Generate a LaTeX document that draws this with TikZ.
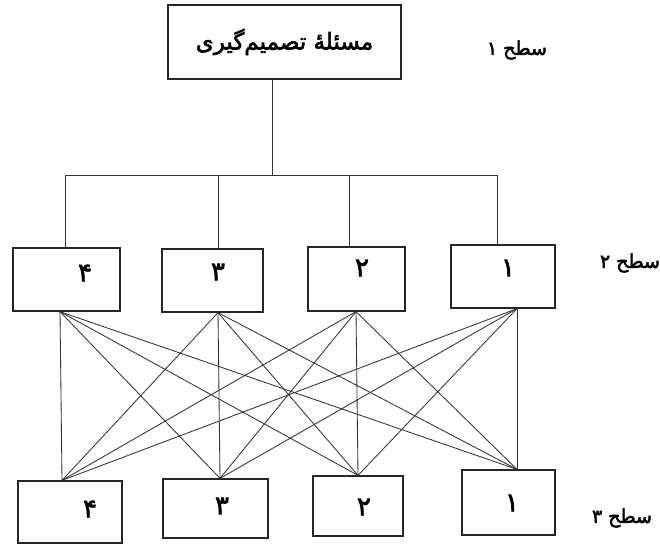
\documentclass[tikz,border=0pt]{standalone}
\usepackage{fontspec}
\newfontfamily\fa[Script=Arabic]{DejaVu Sans}
\newfontfamily\fab[Script=Arabic,FakeBold=2.5]{DejaVu Sans}
\TeXXeTstate=1
\begin{document}
\begin{tikzpicture}[x=1pt,y=-1pt,
  box/.style={draw=black!85, line width=1.3pt, inner sep=0pt},
  wire/.style={draw=black!80, line width=1pt},
  num/.style={inner sep=0pt, font=\fab\fontsize{26}{28}\selectfont},
  lvl/.style={inner sep=0pt, font=\fab\fontsize{19}{22}\selectfont}]
\useasboundingbox (0,0) rectangle (660,545);
\fill[white] (0,0) rectangle (660,545);

% level 1
\node[box, minimum width=233pt, minimum height=74pt] (top) at (284.5,42)
  {\fab\fontsize{23}{26}\selectfont\beginR مسئلهٔ تصمیم‌گیری\endR};
\node[lvl] (s1) at (517,50) {\beginR سطح ۱\endR};

% level 2
\node[box, minimum width=107pt, minimum height=63pt] (b24) at (66.5,279.5) {};
\node[box, minimum width=101pt, minimum height=63pt] (b23) at (212.5,280.5) {};
\node[box, minimum width=97pt,  minimum height=64pt] (b22) at (356.5,279) {};
\node[box, minimum width=104pt, minimum height=63pt] (b21) at (503,276.5) {};
\node[num] (n24) at (85,273) {\beginR ۴\endR};
\node[num] (n23) at (218,272) {\beginR ۳\endR};
\node[num] (n22) at (362,268) {\beginR ۲\endR};
\node[num] (n21) at (508,268) {\beginR ۱\endR};
\node[lvl] (s2) at (630,263) {\beginR سطح ۲\endR};

% level 3
\node[box, minimum width=104pt, minimum height=62pt] (b34) at (70,512) {};
\node[box, minimum width=105pt, minimum height=59pt] (b33) at (215.5,508.5) {};
\node[box, minimum width=90pt,  minimum height=60pt] (b32) at (358,506) {};
\node[box, minimum width=93pt,  minimum height=65pt] (b31) at (508.5,502.5) {};
\node[num] (n34) at (90,509) {\beginR ۴\endR};
\node[num] (n33) at (222,506) {\beginR ۳\endR};
\node[num] (n32) at (364,507) {\beginR ۲\endR};
\node[num] (n31) at (512,503) {\beginR ۱\endR};
\node[lvl] (s3) at (622,518) {\beginR سطح ۳\endR};

% tree connectors
\coordinate (tr) at ([xshift=-12.5pt]top.south);
\coordinate (tj) at (272,176);
\coordinate (d4) at ([xshift=-1.5pt]b24.north);
\coordinate (d3) at ([xshift=5.5pt]b23.north);
\coordinate (d2) at ([xshift=-7.5pt]b22.north);
\coordinate (d1) at ([xshift=-6pt]b21.north);
\draw[wire] (tr) -- (tr |- tj);
\draw[wire] (d4) -- (d4 |- tj) -- (d1 |- tj) -- (d1);
\draw[wire] (d3) -- (d3 |- tj);
\draw[wire] (d2) -- (d2 |- tj);

% crossing connectors
\coordinate (p4) at ([xshift=-6.5pt]b24.south);
\coordinate (p3) at ([xshift=5.5pt]b23.south);
\coordinate (p2) at ([xshift=-0.5pt]b22.south);
\coordinate (p1) at ([xshift=14pt]b21.south);
\coordinate (q4) at ([xshift=-8pt]b34.north);
\coordinate (q3) at ([xshift=4.5pt]b33.north);
\coordinate (q2) at (b32.north);
\coordinate (q1) at ([xshift=8.5pt]b31.north);
\foreach \i in {1,...,4}{
  \foreach \j in {1,...,4}{
    \draw[wire, line width=0.85pt] (p\i) -- (q\j);
  }
}
\end{tikzpicture}
\end{document}
